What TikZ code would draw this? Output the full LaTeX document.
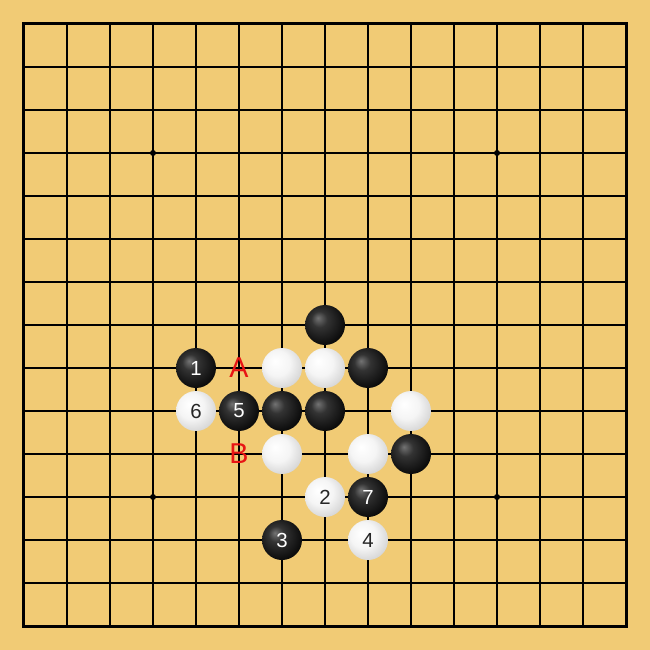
\documentclass[tikz,border=0pt]{standalone}
\usepackage{fontspec}
\setmainfont{Liberation Sans}
\definecolor{boardwood}{RGB}{241,203,117}
\definecolor{marksred}{RGB}{232,20,20}
\pgfdeclareradialshading{blackstone}{\pgfpoint{-9bp}{9bp}}{color(0bp)=(black!55); color(10bp)=(black!80); color(28bp)=(black!95); color(50bp)=(black)}
\pgfdeclareradialshading{whitestone}{\pgfpoint{-9bp}{9bp}}{color(0bp)=(white); color(16bp)=(white!96!black); color(32bp)=(white!82!black); color(50bp)=(white!60!black)}
\begin{document}
\begin{tikzpicture}[
    bstone/.style={circle, minimum size=0.93cm, inner sep=0pt, shading=blackstone, text=white, font=\fontsize{13.5}{13.5}\selectfont},
    wstone/.style={circle, minimum size=0.93cm, inner sep=0pt, shading=whitestone, text=black!85, font=\fontsize{13.5}{13.5}\selectfont},
    marklabel/.style={text=marksred, font=\fontsize{19}{19}\selectfont, inner sep=0pt}
  ]
            % Board background
            \fill [boardwood] (-0.558,0.558) rectangle (14.558,-14.558);
            \useasboundingbox (-0.558,0.558) rectangle (14.558,-14.558);

            % Drawing grid lines
            \foreach \i in {1,...,13} {
              \draw [line width=0.028cm] (\i,0) -- (\i,-14);%
              \draw [line width=0.028cm] (0,-\i) -- (14,-\i);%
            }
            \draw [line width=0.07cm] (0,0) rectangle (14,-14);%

            % Marking star points
            \foreach \x/\y in {3/3,11/3,3/11,11/11}
              \fill (\x,-\y) circle (0.07);%

            % Black stones
            \node [bstone] (b77) at (7,-7) {};%
            \node [bstone] (b48) at (4,-8) {1};%
            \node [bstone] (b88) at (8,-8) {};%
            \node [bstone] (b59) at (5,-9) {5};%
            \node [bstone] (b69) at (6,-9) {};%
            \node [bstone] (b79) at (7,-9) {};%
            \node [bstone] (b910) at (9,-10) {};%
            \node [bstone] (b811) at (8,-11) {7};%
            \node [bstone] (b612) at (6,-12) {3};%

            % White stones
            \node [wstone] (w68) at (6,-8) {};%
            \node [wstone] (w78) at (7,-8) {};%
            \node [wstone] (w49) at (4,-9) {6};%
            \node [wstone] (w99) at (9,-9) {};%
            \node [wstone] (w610) at (6,-10) {};%
            \node [wstone] (w810) at (8,-10) {};%
            \node [wstone] (w711) at (7,-11) {2};%
            \node [wstone] (w812) at (8,-12) {4};%

            % Marking points A and B
            \node [marklabel] (markA) at (5,-8) {A};%
            \node [marklabel] (markB) at (5,-10) {B};%
\end{tikzpicture}
\end{document}
